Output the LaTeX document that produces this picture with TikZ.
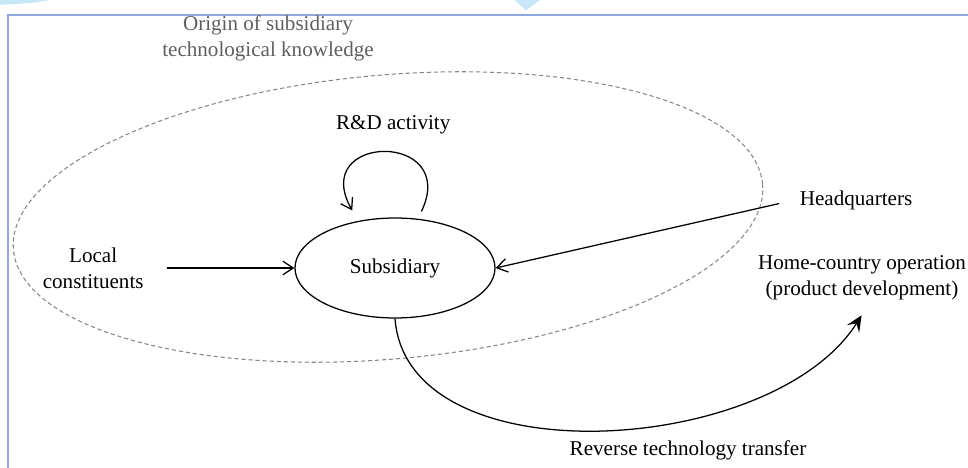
\documentclass[tikz,border=0pt]{standalone}
\usepackage{fontspec}
\setmainfont{Liberation Serif}
\usepackage{tikz}
\usetikzlibrary{arrows.meta,shapes.geometric}
\definecolor{frameblue}{RGB}{143,170,218}
\definecolor{tabblue}{RGB}{200,232,250}
\definecolor{dashgray}{RGB}{135,135,135}
\definecolor{labelgray}{RGB}{95,95,95}

\begin{document}
\begin{tikzpicture}[every node/.style={align=center,font=\fontsize{15}{18.5}\selectfont},
   flow/.style={-{Straight Barb[length=2.6mm,width=3.4mm]},line width=0.9pt},
   back/.style={-{Stealth[length=4mm,width=3.6mm,inset=1.6mm]},line width=0.9pt}]
   \useasboundingbox (0,0) rectangle (24.2,-11.7);
   % page frame and tabs
   \fill[tabblue] (0,0) -- (1.25,0) .. controls (0.8,-0.08) .. (0,-0.12) -- cycle;
   \fill[tabblue] (12.87,0) -- (13.5,0) -- (13.15,-0.26) -- cycle;
   \draw[frameblue,line width=1.3pt] (0.2,-11.7) -- (0.2,-0.375) -- (24.2,-0.375);

   \draw[dashgray,line width=0.75pt,dash pattern=on 3pt off 2pt,rotate around={5:(9.7,-5.425)}]
      (9.7,-5.425) ellipse (9.4 and 3.55);

   \draw (6.7,-0.95) node[text=labelgray] (origin) {Origin of subsidiary\\technological knowledge};
   \draw (9.83,-3.12) node (rd) {R\&D activity};
   \draw (9.875,-6.7) node[draw,ellipse,line width=0.9pt,inner sep=0pt,minimum width=5cm,minimum height=2.5cm] (sub) {Subsidiary};
   \draw (2.33,-6.7) node (local) {Local\\constituents};
   \draw (21.4,-5.0) node (hq) {Headquarters};
   \draw (21.55,-6.95) node (home) {Home-country operation\\(product development)};
   \draw (17.2,-11.25) node (rtt) {Reverse technology transfer};

      \path[flow] (local) edge[shorten <=0.45cm] (sub.west);
      \path[flow] (hq.west) edge[shorten <=0.4cm] (sub.east);
      \draw[flow,shorten <=0.2cm,shorten >=0.3cm] (sub.65) .. controls +(1.05,2.2) and +(-1.25,2.2) .. (sub.128);
      \draw[back,shorten >=0.3cm] (sub.south) .. controls +(0.3,-4) and +(-2.4,-3.8) .. ([xshift=0.15cm]home.south);

\end{tikzpicture}
\end{document}
